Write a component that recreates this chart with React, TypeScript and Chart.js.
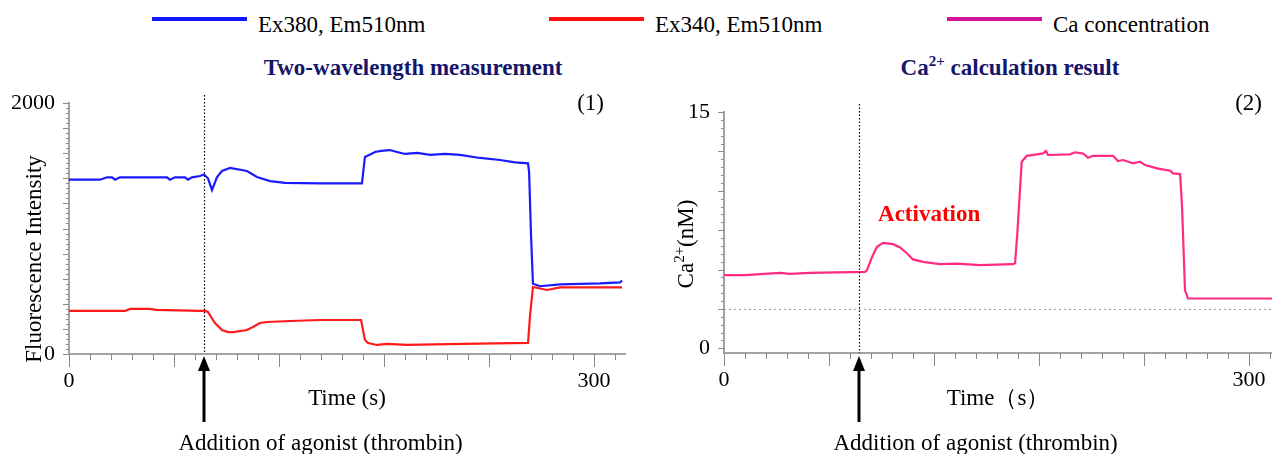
import React, { useEffect, useRef } from 'react';
import { Chart, registerables } from 'chart.js';

Chart.register(...registerables);

const FONT = "'Liberation Serif', 'Times New Roman', serif";

// ---- Panel (1): two-wavelength measurement (time in s, fluorescence intensity) ----
const BLUE_T = [0, 17.7, 21.7, 24.6, 26.3, 29.1, 56, 57.7, 60.6, 66.3, 68, 70.3, 74.9, 77.1, 79.4, 81.7, 84.6, 87.4, 92, 101.7, 107.4, 114.9, 123.4, 143.4, 167.4, 169.1, 174.9, 178.3, 183.4, 187.4, 192, 198.9, 206.3, 214.9, 223.4, 234.9, 246.3, 254.9, 262.3, 262.9, 264, 265.1, 269.1, 280.6, 303.4, 314.9, 316];
const BLUE_V = [1389, 1389, 1408, 1408, 1389, 1408, 1408, 1389, 1408, 1408, 1389, 1408, 1418, 1430, 1400, 1307, 1410, 1458, 1482, 1458, 1410, 1378, 1363, 1360, 1360, 1570, 1610, 1618, 1625, 1610, 1594, 1602, 1586, 1594, 1586, 1562, 1546, 1527, 1519, 1450, 950, 560, 540, 555, 562, 570, 585];
const RED_T = [0, 32, 34.9, 46.3, 50, 74.9, 77.7, 79.4, 83.4, 87.4, 90.9, 93.7, 101.7, 105.1, 109.1, 113.1, 126.3, 143.4, 166.9, 169.1, 170.9, 176, 181.7, 193.1, 225.1, 262.3, 263.4, 265.1, 273.1, 280.6, 316];
const RED_V = [343, 343, 359, 359, 351, 343, 343, 335, 247, 191, 175, 175, 191, 215, 247, 255, 263, 271, 271, 112, 88, 72, 80, 72, 80, 88, 300, 534, 510, 531, 531];

// ---- Panel (2): Ca2+ calculation result (time in s, nM) ----
const CA_T = [0, 12, 32, 37.7, 49.1, 80.6, 81.7, 84.6, 87.4, 90.9, 96.6, 100.6, 104.6, 108, 113.7, 123.4, 133.1, 146.3, 165.1, 166.3, 167.6, 170.1, 173, 178.7, 182.3, 184, 185.1, 197.7, 200.6, 205.1, 208, 210.9, 222.3, 225.1, 228, 233.7, 237.7, 240.6, 247.4, 254.9, 256.6, 260.6, 261.7, 263.4, 265.1, 313.1];
const CA_V = [4.64, 4.64, 4.79, 4.72, 4.79, 4.85, 4.96, 5.8, 6.44, 6.69, 6.61, 6.4, 6.02, 5.64, 5.49, 5.34, 5.38, 5.28, 5.34, 5.4, 7.29, 11.84, 12.22, 12.31, 12.37, 12.52, 12.27, 12.31, 12.44, 12.37, 12.1, 12.22, 12.22, 11.89, 11.95, 11.74, 11.84, 11.63, 11.42, 11.27, 11.1, 11.06, 8.98, 3.69, 3.16, 3.16];

// ---- Axis labels / annotations ----
const X_TICK_LABELS = [0, 300];
const Y1_TICK_LABELS = [0, 2000];
const Y2_TICK_LABELS = [0, 15];
const AGONIST_T = 77;
const CA_REF_LEVEL = 2.5;
const ACTIVATION_AT = { t: 88, v: 8.46 };

const LEGEND = [
  { label: 'Ex380, Em510nm', color: '#1414ff' },
  { label: 'Ex340, Em510nm', color: '#ff1010' },
  { label: 'Ca concentration', color: '#d0129c' },
];

const toPoints = (t: number[], v: number[]) => t.map((x, i) => ({ x, y: v[i] }));

type Decor = {
  xMinor: number; xMajor: number; yMinor: number; yMax: number; yMajor: number;
  panelTag: string; tagRight: number;
  yTitle: (ctx: CanvasRenderingContext2D) => void;
  refLevel?: number;
  activation?: { t: number; v: number };
};

function decorPlugin(d: Decor) {
  return {
    id: 'decor',
    afterDraw(chart: any) {
      const { ctx, chartArea: a, scales } = chart;
      const x = scales.x, y = scales.y;
      ctx.save();
      // reference dotted level
      if (d.refLevel !== undefined) {
        const py = Math.round(y.getPixelForValue(d.refLevel)) + 0.5;
        ctx.strokeStyle = '#a09f90';
        ctx.lineWidth = 1;
        ctx.setLineDash([2, 3]);
        ctx.beginPath(); ctx.moveTo(a.left, py); ctx.lineTo(a.right, py); ctx.stroke();
        ctx.setLineDash([]);
      }
      // x tick marks
      ctx.strokeStyle = '#8a8a8a';
      ctx.lineWidth = 1;
      for (let i = 0; i * d.xMinor <= x.max; i++) {
        const t = i * d.xMinor;
        const px = Math.round(x.getPixelForValue(t)) + 0.5;
        const major = (i * d.xMinor) % d.xMajor === 0;
        ctx.beginPath(); ctx.moveTo(px, a.bottom); ctx.lineTo(px, a.bottom + (major ? 13 : 6)); ctx.stroke();
      }
      // y tick marks
      for (let i = 0; i * d.yMinor <= d.yMax + 1e-9; i++) {
        const v = i * d.yMinor;
        const py = Math.round(y.getPixelForValue(v)) + 0.5;
        const major = Math.abs(v / d.yMajor - Math.round(v / d.yMajor)) < 1e-6;
        ctx.beginPath(); ctx.moveTo(a.left - (major ? 6 : 3), py); ctx.lineTo(a.left, py); ctx.stroke();
      }
      // agonist dotted line
      const ax = Math.round(x.getPixelForValue(AGONIST_T)) + 0.5;
      ctx.strokeStyle = '#000';
      ctx.lineWidth = 1.2;
      ctx.setLineDash([1.5, 2]);
      ctx.beginPath(); ctx.moveTo(ax, a.top - 8); ctx.lineTo(ax, a.bottom); ctx.stroke();
      ctx.setLineDash([]);
      // arrow
      ctx.fillStyle = '#000';
      ctx.lineWidth = 3;
      ctx.beginPath(); ctx.moveTo(ax - 0.5, 368); ctx.lineTo(ax - 0.5, 422); ctx.stroke();
      ctx.beginPath(); ctx.moveTo(ax - 0.5, 356); ctx.lineTo(ax - 6.5, 371); ctx.lineTo(ax + 5.5, 371); ctx.closePath(); ctx.fill();
      // texts
      ctx.font = `23px ${FONT}`;
      ctx.textAlign = 'left';
      ctx.textBaseline = 'alphabetic';
      ctx.fillText('Addition of agonist (thrombin)', ax - 26, 450);
      ctx.textAlign = 'right';
      ctx.textBaseline = 'middle';
      ctx.fillText(d.panelTag, a.right - d.tagRight, 104);
      if (d.activation) {
        ctx.font = `bold 23px ${FONT}`;
        ctx.fillStyle = '#ff0000';
        ctx.textAlign = 'left';
        ctx.fillText('Activation', x.getPixelForValue(d.activation.t), y.getPixelForValue(d.activation.v));
      }
      ctx.fillStyle = '#000';
      d.yTitle(ctx);
      ctx.restore();
    },
  };
}

function buildConfig(opts: {
  datasets: any[]; xMax: number; yMin: number; yMax: number; yTicks: number[];
  top: number; right: number; yWidth: number; xHeight: number; xTitle: string; decor: Decor;
}) {
  return {
    type: 'line',
    data: { datasets: opts.datasets },
    options: {
      animation: false,
      responsive: false,
      maintainAspectRatio: false,
      layout: { padding: { top: opts.top, right: opts.right, left: 0, bottom: 0 } },
      plugins: { legend: { display: false }, tooltip: { enabled: false }, title: { display: false } },
      elements: { point: { radius: 0 }, line: { tension: 0, borderWidth: 2 } },
      scales: {
        x: {
          type: 'linear', min: 0, max: opts.xMax,
          afterFit: (s: any) => { s.height = opts.xHeight; },
          afterBuildTicks: (s: any) => { s.ticks = X_TICK_LABELS.map((value) => ({ value })); },
          grid: { display: false, drawTicks: false },
          border: { display: true, color: '#a3a3a3', width: 2 },
          ticks: { font: { family: FONT, size: 22 }, color: '#000', padding: 14, maxRotation: 0, autoSkip: false, callback: (v: any) => String(v) },
          title: { display: true, text: opts.xTitle, font: { family: FONT, size: 23 }, color: '#000', padding: { top: 0, bottom: 41 } },
        },
        y: {
          type: 'linear', min: opts.yMin, max: opts.yMax,
          afterFit: (s: any) => { s.width = opts.yWidth; },
          afterBuildTicks: (s: any) => { s.ticks = opts.yTicks.map((value) => ({ value })); },
          grid: { display: false, drawTicks: false },
          border: { display: true, color: '#a3a3a3', width: 2 },
          ticks: { font: { family: FONT, size: 22 }, color: '#000', padding: 14, autoSkip: false, callback: (v: any) => String(v) },
        },
      },
    },
    plugins: [decorPlugin(opts.decor)],
  } as any;
}

export default function App() {
  const ref1 = useRef<HTMLCanvasElement>(null);
  const ref2 = useRef<HTMLCanvasElement>(null);

  useEffect(() => {
    Chart.defaults.font.family = FONT;
    const c1 = new Chart(ref1.current!, buildConfig({
      datasets: [
        { label: 'Ex380, Em510nm', data: toPoints(BLUE_T, BLUE_V), borderColor: '#1a1aff', borderWidth: 2.2 },
        { label: 'Ex340, Em510nm', data: toPoints(RED_T, RED_V), borderColor: '#ff1a1a', borderWidth: 2.2 },
      ],
      xMax: 317.7, yMin: 0, yMax: 2000, yTicks: Y1_TICK_LABELS,
      top: 103, right: 15, yWidth: 69, xHeight: 100, xTitle: 'Time (s)',
      decor: {
        xMinor: 12, xMajor: 60, yMinor: 40, yMajor: 200, yMax: 2000,
        panelTag: '(1)', tagRight: 21,
        yTitle: (ctx) => {
          ctx.save();
          ctx.translate(35, 259);
          ctx.rotate(-Math.PI / 2);
          ctx.font = `23px ${FONT}`;
          ctx.textAlign = 'center';
          ctx.textBaseline = 'middle';
          ctx.fillText('Fluorescence Intensity', 0, 0);
          ctx.restore();
        },
      },
    }));
    const c2 = new Chart(ref2.current!, buildConfig({
      datasets: [
        { label: 'Ca concentration', data: toPoints(CA_T, CA_V), borderColor: '#ff2a82', borderWidth: 2.2 },
      ],
      xMax: 313.1, yMin: -0.3, yMax: 15, yTicks: Y2_TICK_LABELS,
      top: 112, right: 28, yWidth: 84, xHeight: 101, xTitle: 'Time（s）',
      decor: {
        xMinor: 12, xMajor: 60, yMinor: 0.5, yMajor: 2.5, yMax: 15,
        panelTag: '(2)', tagRight: 10,
        refLevel: CA_REF_LEVEL,
        activation: ACTIVATION_AT,
        yTitle: (ctx) => {
          ctx.save();
          ctx.translate(47, 244);
          ctx.rotate(-Math.PI / 2);
          ctx.textBaseline = 'middle';
          ctx.textAlign = 'left';
          const big = `23px ${FONT}`, small = `15px ${FONT}`;
          ctx.font = big; const w1 = ctx.measureText('Ca').width; const w3 = ctx.measureText('(nM)').width;
          ctx.font = small; const w2 = ctx.measureText('2+').width;
          let xx = -(w1 + w2 + w3) / 2;
          ctx.font = big; ctx.fillText('Ca', xx, 0); xx += w1;
          ctx.font = small; ctx.fillText('2+', xx, -7); xx += w2;
          ctx.font = big; ctx.fillText('(nM)', xx, 0);
          ctx.restore();
        },
      },
    }));
    return () => { c1.destroy(); c2.destroy(); };
  }, []);

  const textStyle: React.CSSProperties = { position: 'absolute', fontFamily: FONT, fontSize: 23, lineHeight: '23px', color: '#000', whiteSpace: 'nowrap' };
  const titleStyle: React.CSSProperties = { ...textStyle, fontWeight: 'bold', color: '#15156a', transform: 'translateX(-50%)' };
  const legendX = [152, 549, 947];

  return (
    <div style={{ position: 'fixed', left: 0, top: 0, width: 1272, height: 454, background: '#fff', overflow: 'hidden' }}>
      {LEGEND.map((l, i) => (
        <React.Fragment key={l.label}>
          <div style={{ position: 'absolute', left: legendX[i], top: 17, width: 95, height: 4, background: l.color }} />
          <div style={{ ...textStyle, left: legendX[i] + 106, top: 13 }}>{l.label}</div>
        </React.Fragment>
      ))}
      <div style={{ ...titleStyle, left: 413, top: 56 }}>Two-wavelength measurement</div>
      <div style={{ ...titleStyle, left: 1010, top: 56 }}>Ca<sup style={{ fontSize: 15, lineHeight: 0, verticalAlign: 'super' }}>2+</sup> calculation result</div>
      <canvas ref={ref1} width={640} height={454} style={{ position: 'absolute', left: 0, top: 0, display: 'block' }} />
      <canvas ref={ref2} width={660} height={454} style={{ position: 'absolute', left: 640, top: 0, display: 'block' }} />
    </div>
  );
}
